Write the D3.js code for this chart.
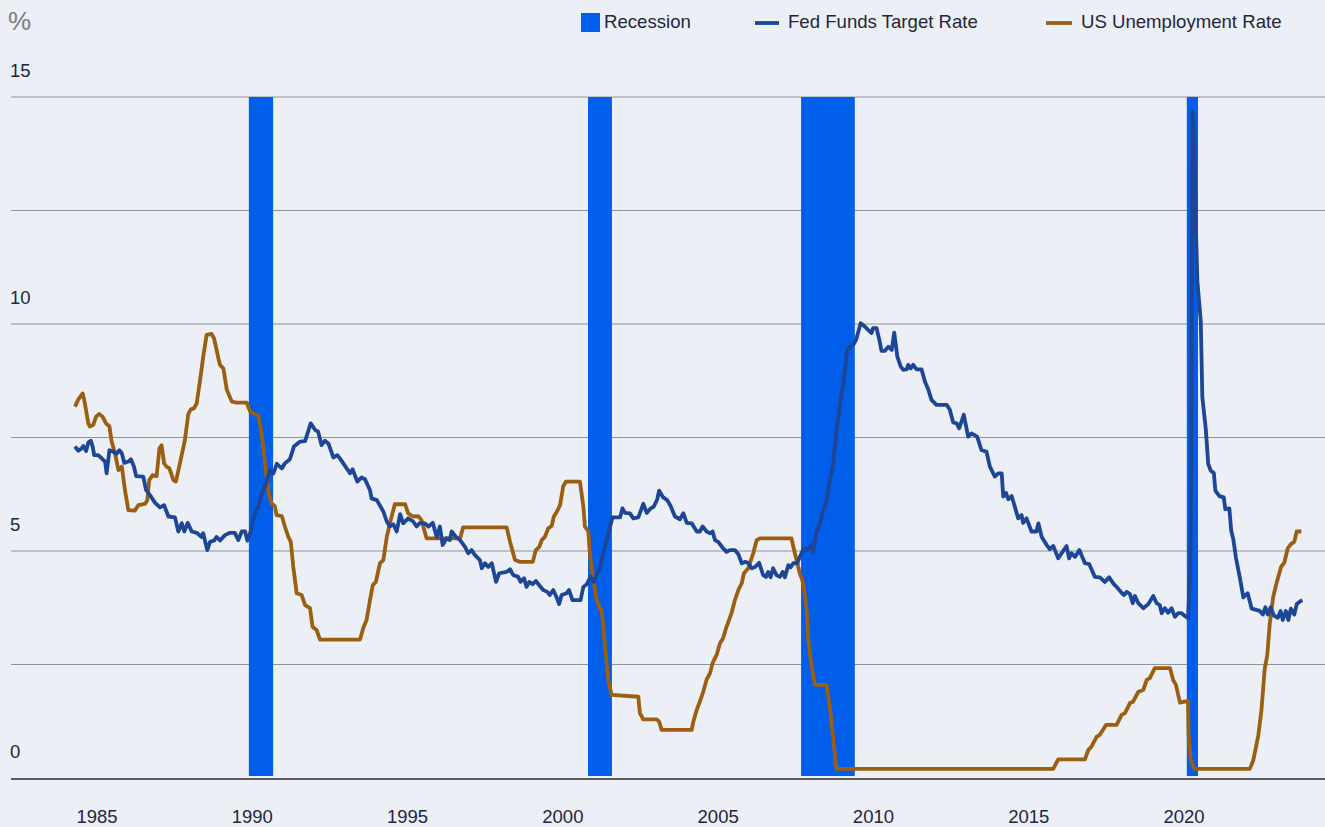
<!DOCTYPE html>
<html>
<head>
<meta charset="utf-8">
<script src="https://cdn.jsdelivr.net/npm/d3@7"></script>
<style>
  html, body { margin: 0; padding: 0; background: #ECEFF6; }
  svg { display: block; font-family: "Liberation Sans", Arial, sans-serif; }
</style>
</head>
<body>
<svg id="chart"></svg>
<script>
// ---- data ----
var legendLabels = ["Recession", "Fed Funds Target Rate", "US Unemployment Rate"];
var xTicks = [1985, 1990, 1995, 2000, 2005, 2010, 2015, 2020];
var yTicks = [0, 5, 10, 15];
var yGrid = [2.5, 5, 7.5, 10, 12.5, 15];

// recession periods [start, end] in decimal years
var recessions = [[1989.89, 1990.67], [2000.81, 2001.58], [2007.67, 2009.40], [2020.09, 2020.45]];

// blue line [year, %]
var fedFunds = [
  [1984.29,7.30],[1984.40,7.21],[1984.51,7.26],[1984.56,7.31],[1984.65,7.20],[1984.72,7.39],[1984.80,7.43],[1984.86,7.30],
  [1984.91,7.11],[1985.04,7.11],[1985.15,7.04],[1985.26,6.97],[1985.31,6.71],[1985.40,7.22],[1985.52,7.19],[1985.63,7.14],
  [1985.72,7.22],[1985.80,7.15],[1985.88,6.94],[1986.01,6.97],[1986.09,7.02],[1986.19,6.86],[1986.26,6.65],[1986.49,6.64],
  [1986.58,6.34],[1986.71,6.23],[1986.87,6.06],[1987.03,5.96],[1987.16,6.01],[1987.30,5.76],[1987.51,5.74],[1987.62,5.43],
  [1987.73,5.61],[1987.81,5.43],[1987.92,5.62],[1988.05,5.43],[1988.21,5.40],[1988.37,5.31],[1988.42,5.39],[1988.55,5.02],
  [1988.64,5.20],[1988.77,5.23],[1988.85,5.31],[1988.96,5.23],[1989.12,5.35],[1989.28,5.40],[1989.44,5.40],[1989.55,5.24],
  [1989.66,5.43],[1989.77,5.43],[1989.84,5.23],[1989.93,5.39],[1990.03,5.68],[1990.12,5.90],[1990.19,5.95],[1990.28,6.23],
  [1990.41,6.42],[1990.57,6.78],[1990.68,6.71],[1990.79,6.92],[1990.95,6.82],[1991.05,6.93],[1991.21,7.02],[1991.34,7.30],
  [1991.54,7.41],[1991.70,7.42],[1991.88,7.81],[1992.02,7.67],[1992.12,7.63],[1992.23,7.33],[1992.34,7.43],[1992.45,7.37],
  [1992.61,7.06],[1992.74,7.11],[1992.82,7.04],[1993.04,6.82],[1993.15,6.71],[1993.23,6.80],[1993.38,6.53],[1993.52,6.62],
  [1993.63,6.58],[1993.79,6.34],[1993.84,6.16],[1994.01,6.12],[1994.22,5.87],[1994.33,5.65],[1994.43,5.54],[1994.54,5.59],
  [1994.65,5.43],[1994.76,5.81],[1994.86,5.61],[1995.02,5.72],[1995.18,5.65],[1995.29,5.54],[1995.40,5.62],[1995.56,5.61],
  [1995.67,5.54],[1995.81,5.62],[1995.94,5.31],[1996.04,5.54],[1996.13,5.13],[1996.26,5.28],[1996.36,5.24],[1996.42,5.43],
  [1996.56,5.31],[1996.69,5.24],[1996.85,5.09],[1996.95,4.95],[1997.06,5.02],[1997.17,4.91],[1997.33,4.80],[1997.39,4.62],
  [1997.49,4.73],[1997.60,4.65],[1997.71,4.73],[1997.85,4.32],[1997.95,4.51],[1998.19,4.54],[1998.30,4.60],[1998.40,4.47],
  [1998.56,4.43],[1998.64,4.32],[1998.75,4.40],[1998.83,4.21],[1998.92,4.32],[1999.03,4.27],[1999.13,4.34],[1999.26,4.23],
  [1999.37,4.14],[1999.50,4.10],[1999.58,4.03],[1999.69,4.14],[1999.78,4.01],[1999.88,3.83],[1999.96,4.03],[2000.12,4.07],
  [2000.20,4.14],[2000.31,3.92],[2000.57,3.92],[2000.66,4.21],[2000.77,4.27],[2000.89,4.43],[2001.00,4.32],[2001.09,4.47],
  [2001.19,4.62],[2001.30,4.95],[2001.41,5.24],[2001.52,5.54],[2001.60,5.74],[2001.84,5.74],[2001.92,5.94],[2002.00,5.84],
  [2002.16,5.83],[2002.27,5.72],[2002.43,5.74],[2002.59,6.04],[2002.70,5.84],[2002.83,5.94],[2002.93,5.98],[2003.04,6.14],
  [2003.10,6.33],[2003.23,6.18],[2003.36,6.12],[2003.47,5.99],[2003.61,5.76],[2003.77,5.70],[2003.88,5.83],[2003.99,5.62],
  [2004.15,5.61],[2004.31,5.43],[2004.41,5.43],[2004.50,5.54],[2004.63,5.43],[2004.74,5.39],[2004.82,5.43],[2004.90,5.24],
  [2005.00,5.20],[2005.16,5.06],[2005.27,4.98],[2005.38,5.02],[2005.54,5.02],[2005.65,4.93],[2005.76,4.73],[2005.86,4.76],
  [2005.97,4.74],[2006.08,4.62],[2006.19,4.65],[2006.32,4.74],[2006.45,4.47],[2006.54,4.43],[2006.61,4.54],[2006.69,4.42],
  [2006.77,4.62],[2006.88,4.47],[2006.99,4.43],[2007.08,4.54],[2007.15,4.42],[2007.26,4.69],[2007.33,4.64],[2007.42,4.73],
  [2007.55,4.73],[2007.63,4.87],[2007.74,5.04],[2007.87,5.02],[2007.98,5.13],[2008.06,4.98],[2008.15,5.39],[2008.28,5.61],
  [2008.38,5.87],[2008.49,6.12],[2008.60,6.56],[2008.71,6.93],[2008.79,7.52],[2008.92,8.22],[2009.03,8.69],[2009.16,9.43],
  [2009.24,9.50],[2009.35,9.54],[2009.44,9.65],[2009.59,10.02],[2009.73,9.94],[2009.83,9.87],[2009.94,9.80],[2009.99,9.91],
  [2010.10,9.91],[2010.19,9.65],[2010.26,9.41],[2010.37,9.41],[2010.48,9.50],[2010.59,9.43],[2010.67,9.81],[2010.77,9.28],
  [2010.88,9.06],[2010.96,8.99],[2011.07,9.00],[2011.12,9.10],[2011.20,9.02],[2011.28,9.10],[2011.39,9.00],[2011.55,9.00],
  [2011.66,8.73],[2011.77,8.55],[2011.87,8.33],[2012.03,8.22],[2012.36,8.22],[2012.46,8.11],[2012.57,7.83],[2012.68,7.81],
  [2012.76,7.70],[2012.91,8.00],[2013.05,7.52],[2013.16,7.59],[2013.34,7.52],[2013.48,7.22],[2013.64,7.19],[2013.75,6.86],
  [2013.91,6.64],[2014.02,6.71],[2014.13,6.71],[2014.18,6.20],[2014.27,6.28],[2014.34,6.14],[2014.45,6.21],[2014.52,6.05],
  [2014.66,5.72],[2014.77,5.79],[2014.82,5.62],[2014.93,5.72],[2015.09,5.43],[2015.25,5.43],[2015.31,5.61],[2015.42,5.31],
  [2015.58,5.13],[2015.68,5.04],[2015.79,5.11],[2015.95,4.84],[2016.09,4.98],[2016.22,5.11],[2016.30,4.84],[2016.38,4.95],
  [2016.49,4.87],[2016.63,5.02],[2016.81,4.73],[2016.95,4.71],[2017.13,4.43],[2017.29,4.42],[2017.45,4.32],[2017.59,4.42],
  [2017.74,4.27],[2017.83,4.21],[2017.99,4.08],[2018.07,4.03],[2018.15,4.10],[2018.26,4.05],[2018.35,3.85],[2018.42,4.01],
  [2018.53,3.85],[2018.69,3.74],[2018.85,3.83],[2019.01,4.01],[2019.12,3.85],[2019.22,3.81],[2019.28,3.63],[2019.38,3.74],
  [2019.49,3.64],[2019.60,3.74],[2019.71,3.55],[2019.81,3.63],[2019.92,3.63],[2020.03,3.57],[2020.13,3.52],[2020.19,4.37],
  [2020.22,5.35],[2020.25,10.26],[2020.27,14.68],[2020.33,14.18],[2020.38,12.22],[2020.43,10.95],[2020.54,10.06],[2020.59,8.39],
  [2020.70,7.70],[2020.78,6.92],[2020.86,6.77],[2020.96,6.72],[2021.01,6.33],[2021.14,6.21],[2021.28,6.18],[2021.33,5.92],
  [2021.46,5.94],[2021.52,5.45],[2021.59,5.25],[2021.67,4.86],[2021.81,4.37],[2021.91,3.98],[2022.05,4.07],[2022.18,3.73],
  [2022.44,3.68],[2022.54,3.60],[2022.62,3.76],[2022.70,3.60],[2022.79,3.76],[2022.89,3.58],[2023.02,3.53],[2023.11,3.68],
  [2023.18,3.48],[2023.28,3.68],[2023.36,3.48],[2023.44,3.73],[2023.55,3.60],[2023.63,3.83],[2023.76,3.90],[2023.81,3.92]
];

// brown line [year, %]
var unemployment = [
  [1984.29,8.18],[1984.40,8.34],[1984.54,8.47],[1984.61,8.25],[1984.72,7.81],[1984.77,7.74],[1984.88,7.78],[1984.97,7.96],
  [1985.07,8.02],[1985.18,7.96],[1985.29,7.81],[1985.40,7.75],[1985.47,7.41],[1985.58,7.15],[1985.69,6.78],[1985.80,6.86],
  [1985.90,6.34],[1986.01,5.90],[1986.22,5.89],[1986.33,6.01],[1986.55,6.04],[1986.62,6.12],[1986.68,6.56],[1986.79,6.67],
  [1986.92,6.65],[1987.01,7.26],[1987.08,7.33],[1987.16,6.93],[1987.24,6.86],[1987.33,6.82],[1987.46,6.56],[1987.54,6.53],
  [1987.67,6.93],[1987.83,7.44],[1987.94,8.02],[1988.02,8.12],[1988.12,8.14],[1988.21,8.25],[1988.32,8.77],[1988.42,9.28],
  [1988.53,9.76],[1988.69,9.78],[1988.77,9.68],[1988.91,9.24],[1988.96,9.10],[1989.07,9.02],[1989.18,8.55],[1989.34,8.29],
  [1989.50,8.27],[1989.82,8.27],[1989.93,8.07],[1990.12,8.00],[1990.19,8.00],[1990.30,7.59],[1990.41,6.93],[1990.51,6.34],
  [1990.62,6.05],[1990.73,5.98],[1990.78,5.79],[1990.95,5.77],[1991.05,5.54],[1991.16,5.31],[1991.24,5.20],[1991.32,4.65],
  [1991.43,4.07],[1991.59,4.03],[1991.70,3.81],[1991.86,3.74],[1991.94,3.33],[1992.07,3.26],[1992.18,3.05],[1993.47,3.05],
  [1993.57,3.30],[1993.68,3.48],[1993.79,3.92],[1993.88,4.25],[1993.98,4.32],[1994.11,4.73],[1994.22,4.80],[1994.33,5.31],
  [1994.43,5.61],[1994.59,6.03],[1994.92,6.03],[1995.02,5.83],[1995.18,5.76],[1995.34,5.77],[1995.45,5.68],[1995.61,5.28],
  [1996.69,5.28],[1996.79,5.52],[1998.19,5.52],[1998.30,5.20],[1998.46,4.80],[1998.62,4.76],[1999.03,4.76],[1999.13,5.02],
  [1999.24,5.09],[1999.32,5.24],[1999.42,5.31],[1999.53,5.50],[1999.64,5.55],[1999.71,5.76],[1999.82,5.88],[1999.91,6.01],
  [2000.01,6.42],[2000.10,6.53],[2000.55,6.53],[2000.66,5.98],[2000.71,5.54],[2000.82,5.43],[2000.87,4.95],[2000.98,4.36],
  [2001.09,3.92],[2001.19,3.74],[2001.25,3.70],[2001.36,2.89],[2001.46,2.16],[2001.57,1.83],[2002.43,1.79],[2002.48,1.43],
  [2002.59,1.29],[2003.02,1.29],[2003.10,1.24],[2003.18,1.06],[2004.15,1.06],[2004.20,1.24],[2004.31,1.50],[2004.41,1.68],
  [2004.52,1.90],[2004.63,2.17],[2004.74,2.31],[2004.82,2.53],[2004.95,2.71],[2005.06,2.97],[2005.16,3.08],[2005.27,3.33],
  [2005.43,3.63],[2005.54,3.92],[2005.65,4.14],[2005.76,4.29],[2005.83,4.51],[2005.97,4.62],[2006.13,4.95],[2006.24,5.24],
  [2006.35,5.28],[2007.36,5.28],[2007.47,4.95],[2007.63,4.51],[2007.74,4.29],[2007.85,3.70],[2007.90,3.04],[2008.01,2.45],
  [2008.12,2.05],[2008.49,2.05],[2008.60,1.54],[2008.71,0.84],[2008.81,0.20],[2015.79,0.20],[2015.95,0.41],[2016.81,0.41],
  [2016.92,0.62],[2017.02,0.69],[2017.19,0.91],[2017.29,0.95],[2017.49,1.17],[2017.83,1.17],[2017.99,1.39],[2018.10,1.43],
  [2018.26,1.65],[2018.36,1.68],[2018.53,1.90],[2018.69,1.94],[2018.80,2.16],[2018.90,2.20],[2019.06,2.42],[2019.55,2.42],
  [2019.65,2.16],[2019.74,2.05],[2019.87,1.66],[2020.13,1.70],[2020.15,0.93],[2020.22,0.39],[2020.33,0.20],[2022.12,0.20],
  [2022.23,0.39],[2022.39,0.93],[2022.49,1.47],[2022.60,2.41],[2022.68,2.70],[2022.76,3.39],[2022.87,3.98],[2022.97,4.27],
  [2023.13,4.66],[2023.23,4.74],[2023.34,5.06],[2023.44,5.15],[2023.55,5.20],[2023.63,5.43],[2023.78,5.43]
];

// ---- layout ----
var width = 1325, height = 827;
var colors = { recession: "#005EEA", fed: "#1D4696", unemp: "#9C5E10", text: "#1E2640", grid: "#8C9696" };

var svg = d3.select("#chart").attr("width", width).attr("height", height);
svg.append("rect").attr("width", width).attr("height", height).attr("fill", "#ECEFF6");

var x = d3.scaleLinear().domain([1985, 2020]).range([97, 1184]);
var y = d3.scaleLinear().domain([0, 15]).range([778, 97]);

// grid lines
svg.append("g").selectAll("line")
    .data(yGrid)
    .enter().append("line")
    .attr("x1", 11).attr("x2", width)
    .attr("y1", function (d) { return y(d); })
    .attr("y2", function (d) { return y(d); })
    .attr("stroke", colors.grid)
    .attr("stroke-width", 1.2);

// recession bars
svg.append("g").selectAll("rect")
    .data(recessions)
    .enter().append("rect")
    .attr("x", function (d) { return x(d[0]); })
    .attr("width", function (d) { return x(d[1]) - x(d[0]); })
    .attr("y", y(15))
    .attr("height", y(0) - y(15) - 2)
    .attr("fill", colors.recession);

// baseline
svg.append("line")
    .attr("x1", 11).attr("x2", width)
    .attr("y1", y(0) + 1).attr("y2", y(0) + 1)
    .attr("stroke", "#2a2a2e")
    .attr("stroke-width", 1.6);

// lines
var line = d3.line()
    .x(function (d) { return x(d[0]); })
    .y(function (d) { return y(d[1]); });

svg.append("path")
    .datum(unemployment)
    .attr("d", line)
    .attr("fill", "none")
    .attr("stroke", colors.unemp)
    .attr("stroke-width", 3.8)
    .attr("stroke-linejoin", "round");

svg.append("path")
    .datum(fedFunds)
    .attr("d", line)
    .attr("fill", "none")
    .attr("stroke", colors.fed)
    .attr("stroke-width", 3.8)
    .attr("stroke-linejoin", "round");

// y labels (sit above their grid line)
svg.append("g").selectAll("text")
    .data(yTicks)
    .enter().append("text")
    .attr("x", 10)
    .attr("y", function (d) { return y(d) - 20; })
    .attr("font-size", 18.5)
    .attr("fill", colors.text)
    .text(function (d) { return d; });

// unit
svg.append("text")
    .attr("x", 8).attr("y", 30)
    .attr("font-size", 26)
    .attr("font-weight", 300)
    .attr("fill", "#7d7d7d")
    .text("%");

// x labels
svg.append("g").selectAll("text")
    .data(xTicks)
    .enter().append("text")
    .attr("x", function (d) { return x(d); })
    .attr("y", 823)
    .attr("text-anchor", "middle")
    .attr("font-size", 18.5)
    .attr("fill", colors.text)
    .text(function (d) { return d; });

// legend
var lg = svg.append("g");
lg.append("rect").attr("x", 581).attr("y", 13).attr("width", 19).attr("height", 19).attr("fill", colors.recession);
lg.append("text").attr("x", 604).attr("y", 27.5).attr("font-size", 18.6).attr("fill", colors.text).text(legendLabels[0]);

lg.append("line").attr("x1", 755).attr("x2", 779).attr("y1", 23).attr("y2", 23)
    .attr("stroke", colors.fed).attr("stroke-width", 3.8);
lg.append("text").attr("x", 788).attr("y", 27.5).attr("font-size", 18.6).attr("fill", colors.text).text(legendLabels[1]);

lg.append("line").attr("x1", 1046).attr("x2", 1072).attr("y1", 23).attr("y2", 23)
    .attr("stroke", colors.unemp).attr("stroke-width", 3.8);
lg.append("text").attr("x", 1081).attr("y", 27.5).attr("font-size", 18.6).attr("fill", colors.text).text(legendLabels[2]);
</script>
</body>
</html>
